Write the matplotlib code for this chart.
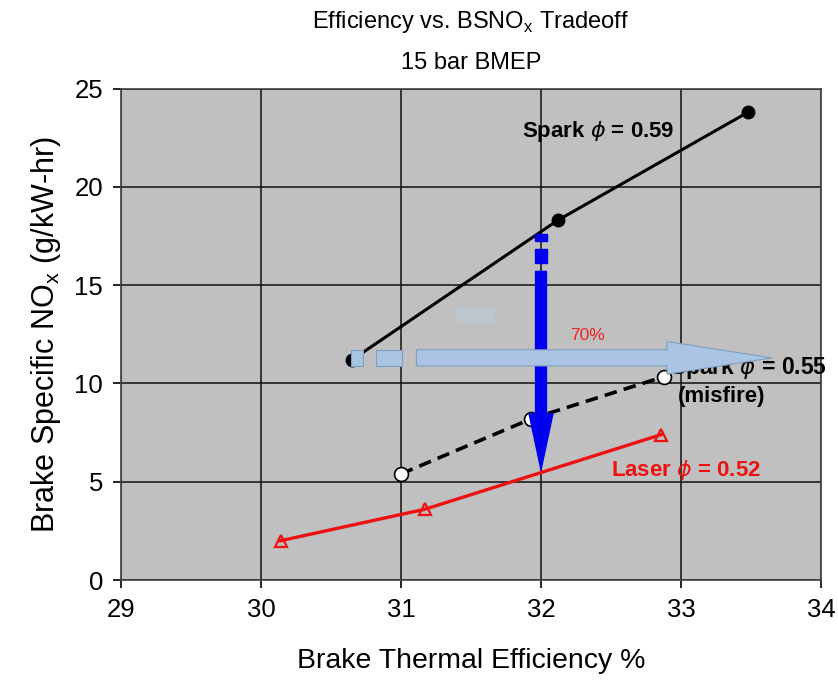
import matplotlib
matplotlib.use('Agg')
import matplotlib.pyplot as plt
from matplotlib.patches import Rectangle, FancyBboxPatch

# Efficiency vs BSNOx data
spark59_eff = [30.65, 32.12, 33.48]
spark59_nox = [11.2, 18.3, 23.8]
spark55_eff = [31.0, 31.93, 32.88]
spark55_nox = [5.4, 8.2, 10.35]
laser52_eff = [30.14, 31.17, 32.86]
laser52_nox = [2.0, 3.6, 7.4]

x_ticks = [29, 30, 31, 32, 33, 34]
y_ticks = [0, 5, 10, 15, 20, 25]

# arrows drawn on the slide (data coords)
h_arrow_y = 11.3
h_arrow_pieces = [(30.64, 30.73), (30.82, 31.01)]
h_arrow_start, h_arrow_head, h_arrow_tip = 31.11, 32.9, 33.65
v_arrow_x = 32.0
v_arrow_pieces = [(17.27, 17.62), (16.14, 16.86)]
v_arrow_start, v_arrow_head, v_arrow_tip = 15.7, 8.45, 5.6

plt.rcParams['font.family'] = ['Liberation Sans', 'DejaVu Sans']
plt.rcParams['mathtext.fontset'] = 'dejavusans'

fig = plt.figure(figsize=(8.38, 6.8), dpi=100)
ax = fig.add_axes([0.1444, 0.147, 0.8353, 0.7228])
ax.set_facecolor('#c0c0c0')

ax.set_xlim(29, 34)
ax.set_ylim(0, 25)
ax.set_xticks(x_ticks)
ax.set_yticks(y_ticks)
ax.grid(True, color='#111111', lw=1.1)
ax.set_axisbelow(True)
for s in ax.spines.values():
    s.set_color('#404040')
    s.set_linewidth(1.2)
ax.tick_params(direction='out', length=6, width=1.2, labelsize=18.5, pad=7)

ax.plot(spark59_eff, spark59_nox, color='black', lw=2.2, marker='o', ms=9,
        mfc='black', mec='black', zorder=3)
ax.plot(spark55_eff, spark55_nox, color='black', lw=2.6, ls=(0, (3.5, 2)),
        marker='o', ms=10, mfc='white', mec='black', mew=1.2, zorder=3)
ax.plot(laser52_eff, laser52_nox, color='#ee1111', lw=2.4, marker='^', ms=8,
        mfc='none', mec='#ee1111', mew=1.6, zorder=3)

# blue vertical arrow
for y0, y1 in v_arrow_pieces:
    ax.add_patch(Rectangle((v_arrow_x - 0.042, y0), 0.084, y1 - y0,
                           color='#0000ee', zorder=4))
ax.arrow(v_arrow_x, v_arrow_start, 0, v_arrow_tip - v_arrow_start, width=0.078,
         head_width=0.17, head_length=v_arrow_head - v_arrow_tip,
         length_includes_head=True, color='#0000ee', zorder=4)

# faint blob
ax.add_patch(FancyBboxPatch((31.42, 13.15), 0.22, 0.7, boxstyle='round,pad=0.03',
                            fc='#bcc6cf', ec='none', zorder=2))

# light blue horizontal arrow
for x0, x1 in h_arrow_pieces:
    ax.add_patch(Rectangle((x0, h_arrow_y - 0.41), x1 - x0, 0.82, fc='#a9c5e3',
                           ec='#7f9fc0', lw=0.8, zorder=5))
ax.arrow(h_arrow_start, h_arrow_y, h_arrow_tip - h_arrow_start, 0, width=0.82,
         head_width=1.66, head_length=h_arrow_tip - h_arrow_head,
         length_includes_head=True, fc='#a9c5e3', ec='#7f9fc0', lw=0.8, zorder=5)

ax.text(32.41, 22.8, r'Spark $\phi$ = 0.59', fontsize=16, fontweight='bold',
        ha='center', va='center', zorder=6)
ax.text(32.92, 10.8, r'Spark $\phi$ = 0.55', fontsize=16.5, fontweight='bold',
        ha='left', va='center', zorder=4, clip_on=False)
ax.text(32.98, 9.35, '(misfire)', fontsize=16, fontweight='bold',
        ha='left', va='center', zorder=4)
ax.text(32.5, 5.6, r'Laser $\phi$ = 0.52', fontsize=16, fontweight='bold',
        color='#ee1111', ha='left', va='center', zorder=6)
ax.text(32.33, 12.45, '70%', fontsize=12.5, color='#ee2222', ha='center',
        va='center', zorder=6)

ax.set_xlabel('Brake Thermal Efficiency %', fontsize=20.5, labelpad=19)
ax.set_ylabel(r'Brake Specific NO$_\mathregular{x}$ (g/kW-hr)', fontsize=22,
              labelpad=8)

fig.text(0.562, 0.967, r'Efficiency vs. BSNO$_\mathregular{x}$ Tradeoff',
         ha='center', va='center', fontsize=17)
fig.text(0.562, 0.908, '15 bar BMEP', ha='center', va='center', fontsize=17)

fig.savefig('out.png', dpi=100)
